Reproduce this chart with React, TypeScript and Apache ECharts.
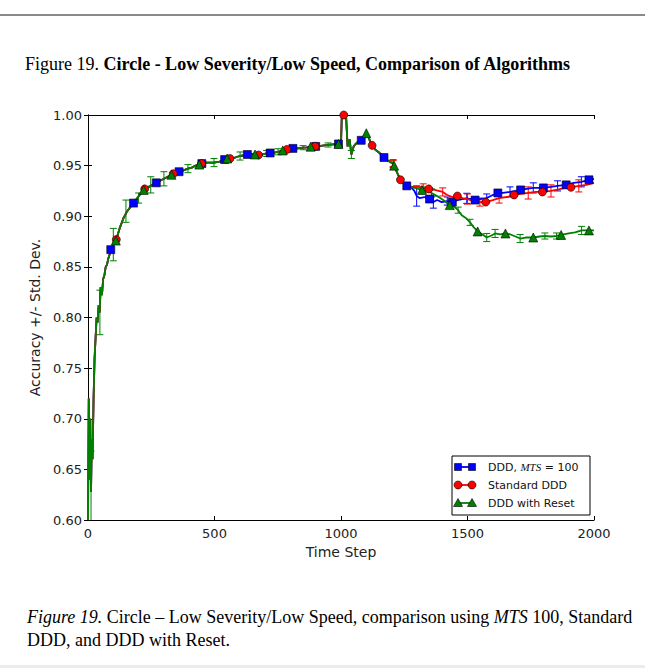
import React, { useEffect, useRef } from "react";
import * as echarts from "echarts";

// Shared learning curve (all three algorithms coincide until ~t=1260)
const commonT = [
  0, 3, 6, 9, 12, 15, 18, 22, 26, 30, 34, 38, 42, 46, 50, 55, 60, 65, 70, 75, 80, 85, 90, 100, 110, 112,
  125, 140, 155, 170, 180, 195, 210, 220, 224, 240, 255, 270, 285, 300, 315, 330, 337, 345, 360, 375,
  395, 410, 425, 440, 449, 450, 470, 498, 520, 540, 550, 561, 580, 600, 615, 630, 640, 660, 674, 690,
  706, 720, 740, 751, 770, 786, 800, 810, 830, 850, 865, 880, 898, 900, 920, 949, 970, 990, 1000,
  1003, 1011, 1020, 1026, 1034, 1041, 1050, 1060, 1075, 1080, 1090, 1100, 1106, 1115, 1123, 1135,
  1150, 1170, 1185, 1206, 1210, 1220, 1235, 1245, 1260,
];
const commonV = [
  0.6, 0.72, 0.64, 0.7, 0.628, 0.68, 0.66, 0.72, 0.76, 0.78, 0.8, 0.795, 0.812, 0.805, 0.83, 0.822,
  0.838, 0.842, 0.85, 0.852, 0.858, 0.862, 0.867, 0.872, 0.876, 0.877, 0.888, 0.898, 0.905, 0.91, 0.913,
  0.918, 0.923, 0.926, 0.927, 0.929, 0.931, 0.933, 0.935, 0.937, 0.939, 0.941, 0.942, 0.943, 0.944,
  0.945, 0.947, 0.948, 0.95, 0.951, 0.952, 0.952, 0.953, 0.953, 0.954, 0.956, 0.957, 0.957, 0.958,
  0.9595, 0.96, 0.961, 0.9615, 0.961, 0.9605, 0.961, 0.962, 0.9625, 0.963, 0.9637, 0.965, 0.966,
  0.9665, 0.967, 0.967, 0.9677, 0.968, 0.9687, 0.969, 0.969, 0.9695, 0.9704, 0.971, 0.9714, 0.9714,
  0.998, 1.0, 0.999, 0.969, 0.976, 0.961, 0.969, 0.972, 0.975, 0.975, 0.979, 0.982, 0.98, 0.974, 0.97,
  0.966, 0.963, 0.958, 0.955, 0.952, 0.95, 0.944, 0.936, 0.933, 0.93,
];

// DDD, MTS = 100
const blueTailT = [
  1280, 1290, 1299, 1310, 1330, 1350, 1365, 1380, 1398, 1420, 1440, 1460, 1480, 1497, 1515, 1530, 1550,
  1576, 1600, 1620, 1640, 1668, 1690, 1710, 1733, 1760, 1780, 1800, 1830, 1856, 1890, 1920, 1950, 1980,
  2000,
];
const blueTailV = [
  0.928, 0.925, 0.92, 0.918, 0.919, 0.917, 0.914, 0.916, 0.914, 0.915, 0.914, 0.916, 0.917, 0.9177,
  0.917, 0.916, 0.917, 0.918, 0.921, 0.923, 0.923, 0.924, 0.925, 0.926, 0.927, 0.928, 0.928, 0.928,
  0.929, 0.93, 0.931, 0.933, 0.934, 0.936, 0.937,
];
const blueMarkT = [
  90, 180, 270, 360, 450, 540, 630, 720, 810, 900, 990, 1080, 1170, 1260, 1350, 1440, 1530, 1620, 1710,
  1800, 1890, 1980,
];
const blueErr = [
  [1299, 0.01], [1365, 0.006], [1420, 0.004], [1497, 0.005], [1576, 0.004], [1668, 0.005],
  [1760, 0.005], [1856, 0.005], [1950, 0.005],
];

// Standard DDD
const redTailT = [
  1280, 1304, 1325, 1347, 1370, 1402, 1420, 1440, 1460, 1480, 1500, 1525, 1549, 1572, 1600, 1625, 1655,
  1684, 1710, 1740, 1770, 1796, 1830, 1860, 1885, 1909, 1940, 1970, 2000,
];
const redTailV = [
  0.929, 0.929, 0.928, 0.927, 0.926, 0.924, 0.921, 0.919, 0.92, 0.918, 0.917, 0.915, 0.914, 0.914,
  0.916, 0.918, 0.919, 0.921, 0.922, 0.923, 0.924, 0.924, 0.925, 0.9266, 0.928, 0.9286, 0.93, 0.931,
  0.933,
];
const redMarkT = [
  112, 224, 337, 449, 561, 674, 786, 898, 1011, 1123, 1235, 1347, 1460, 1572, 1684, 1796, 1909,
];
const redErr = [
  [1206, 0.003], [1325, 0.004], [1402, 0.004], [1500, 0.005], [1549, 0.004], [1625, 0.005],
  [1740, 0.006], [1830, 0.006], [1940, 0.006],
];

// DDD with Reset
const greenTailT = [
  1292, 1320, 1340, 1358, 1380, 1404, 1430, 1445, 1463, 1477, 1495, 1510, 1525, 1540, 1560, 1576, 1595,
  1609, 1630, 1650, 1670, 1690, 1708, 1730, 1760, 1785, 1806, 1830, 1852, 1870, 1900, 1925, 1951, 1980,
  2000,
];
const greenTailV = [
  0.928, 0.926, 0.925, 0.923, 0.92, 0.916, 0.911, 0.91, 0.906, 0.901, 0.898, 0.894, 0.889, 0.885, 0.882,
  0.879, 0.881, 0.883, 0.882, 0.883, 0.882, 0.88, 0.878, 0.879, 0.879, 0.88, 0.8805, 0.88, 0.8805,
  0.8815, 0.883, 0.884, 0.886, 0.886, 0.886,
];
const greenMarkT = [
  110, 220, 330, 440, 550, 660, 770, 880, 990, 1100, 1210, 1320, 1430, 1540, 1650, 1760, 1870, 1980,
];
const greenErr = [
  [12, 0.04], [47, 0.022], [100, 0.016], [150, 0.011], [200, 0.005], [248, 0.008], [300, 0.007],
  [395, 0.004], [498, 0.004], [601, 0.004], [706, 0.003], [751, 0.003], [850, 0.002], [949, 0.002],
  [1041, 0.004], [1206, 0.004], [1325, 0.003], [1358, 0.004], [1463, 0.003], [1510, 0.003],
  [1576, 0.004], [1609, 0.004], [1708, 0.004], [1806, 0.003], [1852, 0.003], [1951, 0.004],
];

const xTicks = [0, 500, 1000, 1500, 2000];
const yTicks = [0.6, 0.65, 0.7, 0.75, 0.8, 0.85, 0.9, 0.95, 1.0];

const legendNames = ["DDD, MTS = 100", "Standard DDD", "DDD with Reset"];

const BLUE = "#0000ff";
const RED = "#ff0000";
const GREEN = "#008000";

function pairs(ts: number[], vs: number[]) {
  return ts.map((t, i) => [t, vs[i]]);
}

function nearest(pts: number[][], t: number) {
  let best = pts[0];
  for (const p of pts) if (Math.abs(p[0] - t) < Math.abs(best[0] - t)) best = p;
  return best[1];
}

function buildSeries(
  name: string,
  pts: number[][],
  marks: number[],
  errs: number[][],
  color: string,
  symbol: string,
  symbolSize: number
) {
  const errData = errs.map(([t, e]) => {
    const v = nearest(pts, t);
    return [t, v - e, v + e];
  });
  return [
    {
      name,
      type: "line",
      data: pts,
      showSymbol: false,
      lineStyle: { color, width: 1.8 },
      itemStyle: { color },
      z: 2,
    },
    {
      name: name + " err",
      type: "custom",
      data: errData,
      encode: { x: 0, y: [1, 2] },
      clip: true,
      z: 2,
      renderItem: (_params: any, api: any) => {
        const t = api.value(0);
        const a = api.coord([t, api.value(2)]);
        const b = api.coord([t, api.value(1)]);
        const w = 3.5;
        const st = { stroke: color, lineWidth: 1 };
        return {
          type: "group",
          children: [
            { type: "line", shape: { x1: a[0], y1: a[1], x2: b[0], y2: b[1] }, style: st },
            { type: "line", shape: { x1: a[0] - w, y1: a[1], x2: a[0] + w, y2: a[1] }, style: st },
            { type: "line", shape: { x1: b[0] - w, y1: b[1], x2: b[0] + w, y2: b[1] }, style: st },
          ],
        };
      },
    },
    {
      name: name + " marks",
      type: "scatter",
      data: marks.map((t) => [t, nearest(pts, t)]),
      symbol,
      symbolSize,
      itemStyle: { color, borderColor: "#000", borderWidth: 0.6, opacity: 1 },
      z: 3,
    },
  ];
}

export default function App() {
  const ref = useRef<HTMLDivElement>(null);

  useEffect(() => {
    document.body.style.margin = "0";
    const chart = echarts.init(ref.current!, null, { renderer: "svg" });

    const common = pairs(commonT, commonV);
    const blue = common.concat(pairs(blueTailT, blueTailV));
    const red = common.concat(pairs(redTailT, redTailV));
    const green = common.concat(pairs(greenTailT, greenTailV));

    const axisFont = { fontFamily: "DejaVu Sans", fontSize: 13, color: "#222" };
    const nameFont = { fontFamily: "DejaVu Sans", fontSize: 14, color: "#222" };
    const tickStyle = { show: true, inside: true, length: 4, lineStyle: { color: "#000", width: 1 } };
    const lineStyle = { show: true, lineStyle: { color: "#000", width: 1 } };

    const serif = "Liberation Serif";
    const legX = 452;
    const legY = 456;
    const rowY = [467, 485, 503];
    const legColors = [BLUE, RED, GREEN];

    const legendMarker = (i: number, cx: number, cy: number) => {
      const st = { fill: legColors[i], stroke: "#000", lineWidth: 0.6 };
      if (i === 0) return { type: "rect", shape: { x: cx - 3.5, y: cy - 3.5, width: 7, height: 7 }, style: st };
      if (i === 1) return { type: "circle", shape: { cx, cy, r: 4 }, style: st };
      return {
        type: "polygon",
        shape: { points: [[cx, cy - 4.5], [cx - 4.5, cy + 3.5], [cx + 4.5, cy + 3.5]] },
        style: st,
      };
    };

    const legendChildren: any[] = [
      {
        type: "rect",
        shape: { x: legX, y: legY, width: 138, height: 59 },
        style: { fill: "#fff", stroke: "#000", lineWidth: 1 },
      },
    ];
    legendNames.forEach((nm, i) => {
      const cy = rowY[i];
      legendChildren.push({
        type: "line",
        shape: { x1: 458, y1: cy, x2: 472, y2: cy },
        style: { stroke: legColors[i], lineWidth: 1.8 },
      });
      legendChildren.push(legendMarker(i, 458, cy));
      legendChildren.push(legendMarker(i, 472, cy));
      const text =
        i === 0 ? "{n|DDD, }{m|MTS}{n| = 100}" : "{n|" + nm + "}";
      legendChildren.push({
        type: "text",
        x: 488,
        y: cy,
        style: {
          text,
          verticalAlign: "middle",
          rich: {
            n: { fontFamily: "DejaVu Sans", fontSize: 11, fill: "#111" },
            m: { fontFamily: serif, fontStyle: "italic", fontSize: 11, fill: "#111" },
          },
        },
      });
    });

    chart.setOption({
      animation: false,
      grid: { left: 88, right: 51, top: 115, bottom: 148, containLabel: false },
      xAxis: [
        {
          type: "value",
          min: 0,
          max: 2000,
          interval: 500,
          name: "Time Step",
          nameLocation: "middle",
          nameGap: 25,
          nameTextStyle: { ...nameFont },
          axisLine: lineStyle,
          axisTick: tickStyle,
          splitLine: { show: false },
          axisLabel: {
            ...axisFont,
            margin: 7,
            formatter: (v: number) => (xTicks.includes(v) ? String(v) : ""),
          },
        },
        {
          type: "value",
          position: "top",
          min: 0,
          max: 2000,
          interval: 500,
          axisLine: lineStyle,
          axisTick: tickStyle,
          axisLabel: { show: false },
          splitLine: { show: false },
        },
      ],
      yAxis: [
        {
          type: "value",
          min: 0.6,
          max: 1.0,
          interval: 0.05,
          name: "Accuracy +/- Std. Dev.",
          nameLocation: "middle",
          nameGap: 41,
          nameTextStyle: { ...nameFont },
          axisLine: lineStyle,
          axisTick: tickStyle,
          splitLine: { show: false },
          axisLabel: {
            ...axisFont,
            margin: 6,
            formatter: (v: number) => {
              const k = yTicks.findIndex((y) => Math.abs(y - v) < 1e-6);
              return k >= 0 ? yTicks[k].toFixed(2) : "";
            },
          },
        },
        {
          type: "value",
          position: "right",
          min: 0.6,
          max: 1.0,
          interval: 0.05,
          axisLine: lineStyle,
          axisTick: tickStyle,
          axisLabel: { show: false },
          splitLine: { show: false },
        },
      ],
      series: [
        ...buildSeries(legendNames[0], blue, blueMarkT, blueErr, BLUE, "rect", 8),
        ...buildSeries(legendNames[1], red, redMarkT, redErr, RED, "circle", 8),
        ...buildSeries(legendNames[2], green, greenMarkT, greenErr, GREEN, "triangle", 9),
      ],
      graphic: [
        {
          type: "rect",
          shape: { x: 0, y: 14, width: 645, height: 2 },
          style: { fill: "#8a8a8a" },
          silent: true,
        },
        {
          type: "rect",
          shape: { x: 0, y: 665, width: 645, height: 3 },
          style: { fill: "#ececec" },
          silent: true,
        },
        {
          type: "text",
          x: 25,
          y: 64,
          style: {
            text: "{n|Figure 19. }{b|Circle - Low Severity/Low Speed, Comparison of Algorithms}",
            verticalAlign: "middle",
            rich: {
              n: { fontFamily: serif, fontSize: 18, fill: "#000" },
              b: { fontFamily: serif, fontSize: 18, fontWeight: "bold", fill: "#000" },
            },
          },
        },
        {
          type: "text",
          x: 27,
          y: 617,
          style: {
            text: "{i|Figure 19.}{n| Circle – Low Severity/Low Speed, comparison using }{i|MTS}{n| 100, Standard}",
            verticalAlign: "middle",
            rich: {
              n: { fontFamily: serif, fontSize: 18, fill: "#000" },
              i: { fontFamily: serif, fontSize: 18, fontStyle: "italic", fill: "#000" },
            },
          },
        },
        {
          type: "text",
          x: 27,
          y: 640,
          style: {
            text: "DDD, and DDD with Reset.",
            verticalAlign: "middle",
            fontFamily: serif,
            fontSize: 18,
            fill: "#000",
          },
        },
        { type: "group", children: legendChildren, z: 100 },
      ],
    });

    return () => chart.dispose();
  }, []);

  return <div ref={ref} style={{ width: 645, height: 668 }} />;
}
